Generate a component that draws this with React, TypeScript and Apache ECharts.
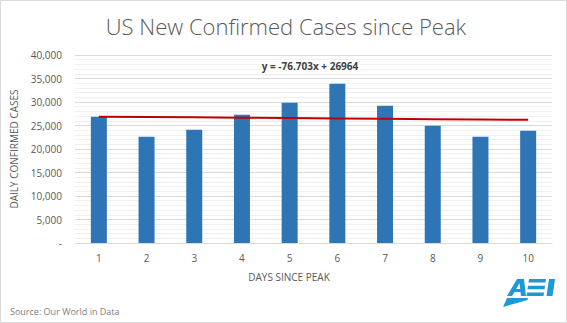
import React, { useEffect, useRef } from "react";
import * as echarts from "echarts";

// Days since the peak and the daily new confirmed cases on each day
const days = ["1", "2", "3", "4", "5", "6", "7", "8", "9", "10"];
const dailyCases = [26850, 22600, 24100, 27300, 29850, 33900, 29200, 24950, 22600, 23900];

// Linear trendline, y = slope * x + intercept (x = day number)
const trendSlope = -76.703;
const trendIntercept = 26964;

const yTicks = [0, 5000, 10000, 15000, 20000, 25000, 30000, 35000, 40000];

const textGray = "#595959";
const font = "'Open Sans', 'Noto Sans', sans-serif";
const aeiBlue = "#1B9AD6";

function formatTick(v: number): string {
  if (v === 0) return "-";
  return v.toLocaleString("en-US");
}

export default function App() {
  const ref = useRef<HTMLDivElement>(null);

  useEffect(() => {
    document.body.style.margin = "0";
    if (!ref.current) return;
    const chart = echarts.init(ref.current, null, { renderer: "svg" });

    const trend = days.map((d) => trendSlope * Number(d) + trendIntercept);
    const equation = `y = ${trendSlope}x + ${trendIntercept}`;

    chart.setOption({
      animation: false,
      backgroundColor: "#ffffff",
      grid: { left: 75, right: 15, top: 55, bottom: 80 },
      xAxis: {
        type: "category",
        data: days,
        axisLine: { lineStyle: { color: "#d9d9d9", width: 1 } },
        axisTick: { show: false },
        axisLabel: { color: textGray, fontSize: 10, fontFamily: font, margin: 10 },
      },
      yAxis: {
        type: "value",
        min: yTicks[0],
        max: yTicks[yTicks.length - 1],
        interval: 5000,
        axisLine: { show: false },
        axisTick: { show: false },
        axisLabel: {
          color: textGray,
          fontSize: 10,
          fontFamily: font,
          margin: 13,
          formatter: (v: number) => formatTick(v),
        },
        splitLine: { lineStyle: { color: "#d9d9d9", width: 1 } },
        minorTick: { show: false, splitNumber: 5 },
        minorSplitLine: { show: true, lineStyle: { color: "#f0f0f0", width: 1 } },
        name: "DAILY CONFIRMED CASES",
        nameLocation: "middle",
        nameRotate: 90,
        nameGap: 56,
        nameTextStyle: { color: textGray, fontSize: 10, fontFamily: font },
      },
      series: [
        {
          type: "bar",
          data: dailyCases,
          barWidth: 16,
          itemStyle: { color: "#2E75B6" },
        },
        {
          type: "line",
          data: trend,
          symbol: "none",
          lineStyle: { color: "#C00000", width: 2 },
          z: 5,
        },
      ],
      graphic: [
        {
          type: "rect",
          shape: { x: 0.5, y: 0.5, width: 566, height: 322 },
          style: { fill: "none", stroke: "#d9d9d9", lineWidth: 1 },
          silent: true,
        },
        {
          type: "text",
          x: 286,
          y: 26,
          style: {
            text: "US New Confirmed Cases since Peak",
            fill: textGray,
            fontSize: 22,
            fontFamily: "'Open Sans', sans-serif",
            fontWeight: 300,
            align: "center",
            verticalAlign: "middle",
          },
        },
        {
          type: "text",
          x: 310,
          y: 66,
          z: 10,
          style: {
            text: equation,
            fill: "#404040",
            fontSize: 10,
            fontWeight: "bold",
            fontFamily: font,
            align: "center",
            verticalAlign: "middle",
            backgroundColor: "#ffffff",
            padding: [1, 2],
          },
        },
        {
          type: "text",
          x: 289,
          y: 277,
          style: {
            text: "DAYS SINCE PEAK",
            fill: textGray,
            fontSize: 10,
            fontFamily: font,
            align: "center",
            verticalAlign: "middle",
          },
        },
        {
          type: "text",
          x: 10,
          y: 311,
          style: {
            text: "Source: Our World in Data",
            fill: "#7f7f7f",
            fontSize: 9,
            fontFamily: font,
            align: "left",
            verticalAlign: "middle",
          },
        },
        // AEI logo
        {
          type: "group",
          x: 505,
          y: 279,
          children: [
            {
              type: "polygon",
              shape: { points: [[12, 0], [19, 0], [21, 17], [16, 17], [15.5, 13], [9.5, 13], [7, 17], [2, 17]] },
              style: { fill: aeiBlue },
            },
            {
              type: "polygon",
              shape: { points: [[14.5, 4], [15.2, 10], [11.2, 10]] },
              style: { fill: "#ffffff" },
            },
            {
              type: "polygon",
              shape: { points: [[24, 0], [41, 0], [40.5, 3.5], [23.5, 3.5]] },
              style: { fill: aeiBlue },
            },
            {
              type: "polygon",
              shape: { points: [[23, 6.8], [40, 6.8], [39.5, 10.2], [22.5, 10.2]] },
              style: { fill: aeiBlue },
            },
            {
              type: "polygon",
              shape: { points: [[22, 13.5], [39, 13.5], [38.5, 17], [21.5, 17]] },
              style: { fill: aeiBlue },
            },
            {
              type: "polygon",
              shape: { points: [[44, 0], [50, 0], [47.5, 17], [41.5, 17]] },
              style: { fill: aeiBlue },
            },
            {
              type: "polygon",
              shape: { points: [[2, 19], [23, 19], [22.5, 21], [-2, 28]] },
              style: { fill: aeiBlue },
            },
          ],
        },
      ],
    });

    return () => chart.dispose();
  }, []);

  return <div ref={ref} style={{ width: 567, height: 323 }} />;
}
